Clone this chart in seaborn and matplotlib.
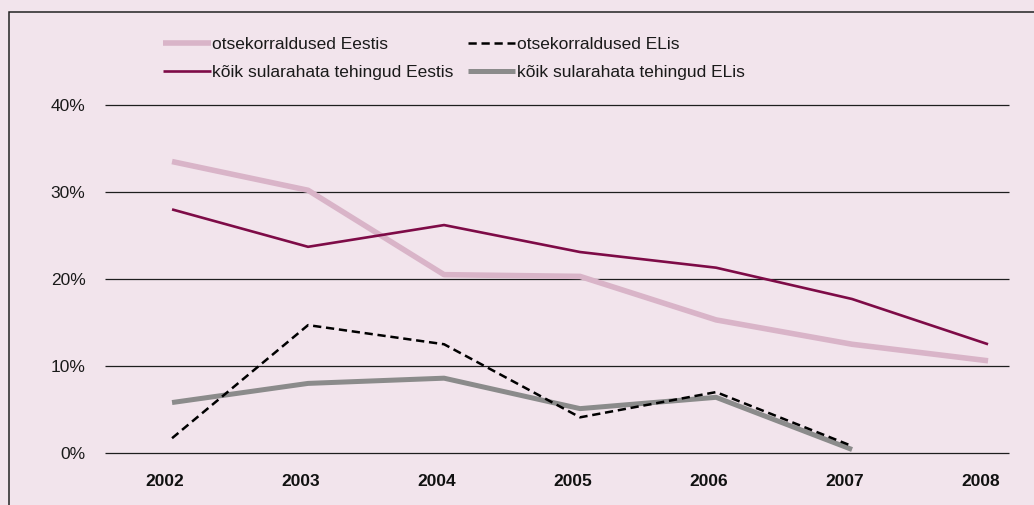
import matplotlib
matplotlib.use("Agg")
import matplotlib.pyplot as plt
import matplotlib.transforms as mtransforms
from matplotlib.patches import Rectangle
from matplotlib.lines import Line2D
import numpy as np
import pandas as pd
import seaborn as sns

# Data (share of payments, %)
years = ["2002", "2003", "2004", "2005", "2006", "2007", "2008"]
otse_eestis = [33.5, 30.2, 20.5, 20.3, 15.3, 12.5, 10.6]
koik_eestis = [28.0, 23.7, 26.2, 23.1, 21.3, 17.7, 12.5]
otse_elis = [1.7, 14.7, 12.5, 4.1, 7.0, 0.8, np.nan]
koik_elis = [5.8, 8.0, 8.6, 5.1, 6.4, 0.4, np.nan]

yticks = [0, 10, 20, 30, 40]
ytick_labels = ["0%", "10%", "20%", "30%", "40%"]

labels = [
    "otsekorraldused Eestis",
    "kõik sularahata tehingud Eestis",
    "otsekorraldused ELis",
    "kõik sularahata tehingud ELis",
]

BG = "#f2e4ec"
C_PINK = "#d9b4c8"
C_MAROON = "#7e0b47"
C_GRAY = "#8b8b8b"
C_BLACK = "#000000"

sns.set_style("white", {"axes.facecolor": BG, "figure.facecolor": BG})
plt.rcParams["font.family"] = ["Liberation Sans", "DejaVu Sans"]
plt.rcParams["lines.solid_capstyle"] = "butt"
plt.rcParams["lines.dash_capstyle"] = "butt"

W, H = 1034, 505
fig = plt.figure(figsize=(W / 100, H / 100), dpi=100, facecolor=BG)

# axes in pixel terms: x 105..1009, y 105 (40%) .. 453 (0%)
ax = fig.add_axes([105 / W, 1 - 453 / H, (1009 - 105) / W, (453 - 105) / H])
ax.set_facecolor(BG)

df = pd.DataFrame({
    "x": np.arange(len(years)),
    labels[0]: otse_eestis,
    labels[1]: koik_eestis,
    labels[2]: otse_elis,
    labels[3]: koik_elis,
})

# horizontal reference lines
for v in yticks:
    ax.axhline(v, color="#1e1e1e", lw=0.9, zorder=1, clip_on=False)

styles = {
    labels[0]: dict(color=C_PINK, lw=4.0, ls="-"),
    labels[1]: dict(color=C_MAROON, lw=1.9, ls="-"),
    labels[2]: dict(color=C_BLACK, lw=1.8, ls=(0, (3.3, 1.9))),
    labels[3]: dict(color=C_GRAY, lw=3.6, ls="-"),
}

draw_order = [labels[0], labels[1], labels[3], labels[2]]
for name in draw_order:
    st = styles[name]
    sub = df[["x", name]].dropna()
    sns.lineplot(data=sub, x="x", y=name, ax=ax, color=st["color"],
                 linewidth=st["lw"], linestyle=st["ls"], zorder=3,
                 legend=False, clip_on=False)

ax.set_xlim(-0.493, 6.154)
ax.set_ylim(0, 40)
ax.set_xlabel("")
ax.set_ylabel("")
for s in ax.spines.values():
    s.set_visible(False)

ax.set_yticks(yticks)
ax.set_yticklabels(ytick_labels, fontsize=12.5, color="#1a1a1a")
ax.set_xticks(np.arange(len(years)))
ax.set_xticklabels(years, fontsize=12.5, fontweight="bold", color="#111111")
ax.tick_params(axis="y", length=0, pad=14)
ax.tick_params(axis="x", length=0, pad=15)

shift = mtransforms.ScaledTranslation(-7 / 100, 0, fig.dpi_scale_trans)
for lab in ax.get_xticklabels():
    lab.set_transform(lab.get_transform() + shift)

# legend
handles = [
    Line2D([], [], **{"color": styles[n]["color"], "lw": styles[n]["lw"],
                      "ls": styles[n]["ls"]}) for n in labels
]
leg = fig.legend(handles, labels, ncol=2, loc="upper left",
                 bbox_to_anchor=(163 / W, 1 - 37 / H), frameon=False,
                 fontsize=12.5, handlelength=2.75, handletextpad=0.1,
                 columnspacing=0.8, labelspacing=0.72, borderpad=0,
                 borderaxespad=0)
for t in leg.get_texts():
    t.set_color("#1a1a1a")

# outer frame
fig.patches.append(Rectangle((9 / W, -0.1), 1.2, 1 - 12 / H + 0.1,
                             transform=fig.transFigure, fill=False,
                             edgecolor="#222222", lw=1.1, clip_on=False))

fig.savefig("out.png", dpi=100, facecolor=BG)
